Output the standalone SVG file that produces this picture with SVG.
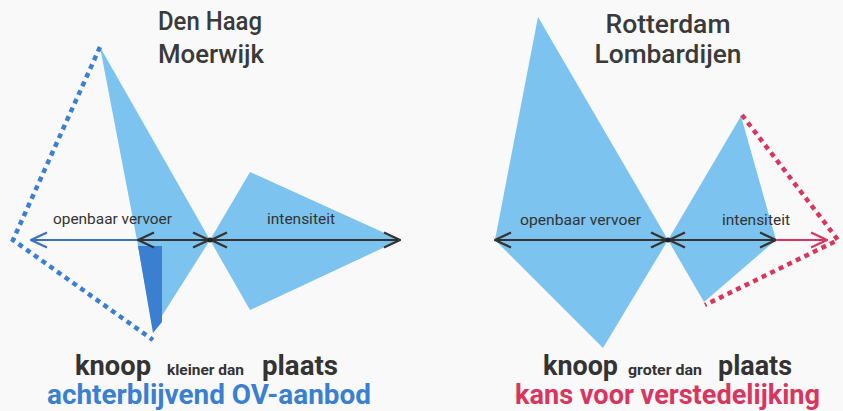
<svg xmlns="http://www.w3.org/2000/svg" width="843" height="411" viewBox="0 0 843 411">
<style>
.kite{fill:#7cc3ef}
.axis{stroke:#333;stroke-width:2;fill:none}
.title{font-family:Roboto,"Liberation Sans",sans-serif;font-size:25px;font-weight:500;fill:#3a3a3a;text-anchor:middle}
.lbl{font-family:Roboto,"Liberation Sans",sans-serif;font-size:14px;fill:#333}
.big{font-family:Roboto,"Liberation Sans",sans-serif;font-size:27px;font-weight:700;fill:#333}
.small{font-family:Roboto,"Liberation Sans",sans-serif;font-size:14px;font-weight:700;fill:#333}
.dotB{stroke:#3b7fd0;stroke-width:4.5;fill:none;stroke-dasharray:5 4.5}
.dotR{stroke:#d8365e;stroke-width:4.5;fill:none;stroke-dasharray:5 4.5}
</style>
<defs>
<marker id="ah" viewBox="0 0 18 18" refX="17" refY="9" markerWidth="18" markerHeight="18" markerUnits="userSpaceOnUse" orient="auto-start-reverse">
<path d="M1,1.5 L17,9 L1,16.5" fill="none" stroke="#333" stroke-width="2.2"/>
</marker>
<marker id="ahB" viewBox="0 0 18 18" refX="17" refY="9" markerWidth="18" markerHeight="18" markerUnits="userSpaceOnUse" orient="auto-start-reverse">
<path d="M1,1.5 L17,9 L1,16.5" fill="none" stroke="#3b6fc0" stroke-width="2.2"/>
</marker>
<marker id="ahR" viewBox="0 0 18 18" refX="17" refY="9" markerWidth="18" markerHeight="18" markerUnits="userSpaceOnUse" orient="auto">
<path d="M1,1.5 L17,9 L1,16.5" fill="none" stroke="#d8365e" stroke-width="2.2"/>
</marker>
</defs>
<rect width="843" height="411" fill="#f9f9f9"/>

<g id="den-haag">
<g id="dh-title">
<text class="title" x="210" y="30" textLength="104" lengthAdjust="spacingAndGlyphs">Den Haag</text>
<text class="title" x="211" y="63" textLength="106" lengthAdjust="spacingAndGlyphs">Moerwijk</text>
</g>
<g id="dh-knoop">
<polygon class="kite" points="100,47 210,240 153,330 137,240"/>
<polygon fill="#3b7fd0" points="138,246 162,246 162,322 153,333"/>
</g>
<g id="dh-plaats">
<polygon class="kite" points="250,172 400,240 250,310 210,240"/>
</g>
<g id="dh-outline">
<polyline class="dotB" points="100,47 13,240 153,340"/>
</g>
<g id="dh-labels">
<text class="lbl" x="53" y="224" textLength="119" lengthAdjust="spacingAndGlyphs">openbaar vervoer</text>
<text class="lbl" x="267" y="224" textLength="68" lengthAdjust="spacingAndGlyphs">intensiteit</text>
</g>
<g id="dh-caption">
<text class="big" x="75" y="375" textLength="76" lengthAdjust="spacingAndGlyphs">knoop</text>
<text class="small" x="167" y="375" textLength="77" lengthAdjust="spacingAndGlyphs">kleiner dan</text>
<text class="big" x="262" y="375" textLength="76" lengthAdjust="spacingAndGlyphs">plaats</text>
<text class="big" x="47" y="404" textLength="324" lengthAdjust="spacingAndGlyphs" style="fill:#3b7fd0">achterblijvend OV-aanbod</text>
</g>
</g>

<g id="rotterdam">
<g id="rl-title">
<text class="title" x="668" y="33" textLength="125" lengthAdjust="spacingAndGlyphs">Rotterdam</text>
<text class="title" x="668" y="63" textLength="147" lengthAdjust="spacingAndGlyphs">Lombardijen</text>
</g>
<g id="rl-knoop">
<polygon class="kite" points="538,17 668,240 603,348 495,240"/>
</g>
<g id="rl-plaats">
<polygon class="kite" points="741,116 776,240 704,302 668,240"/>
</g>
<g id="rl-outline">
<polyline class="dotR" points="742,115 838,240 705,305"/>
</g>
<g id="rl-labels">
<text class="lbl" x="520" y="225" textLength="121" lengthAdjust="spacingAndGlyphs">openbaar vervoer</text>
<text class="lbl" x="722" y="225" textLength="68" lengthAdjust="spacingAndGlyphs">intensiteit</text>
</g>
<g id="rl-caption">
<text class="big" x="543" y="375" textLength="75" lengthAdjust="spacingAndGlyphs">knoop</text>
<text class="small" x="628" y="375" textLength="74" lengthAdjust="spacingAndGlyphs">groter dan</text>
<text class="big" x="718" y="375" textLength="74" lengthAdjust="spacingAndGlyphs">plaats</text>
<text class="big" x="515" y="404" textLength="305" lengthAdjust="spacingAndGlyphs" style="fill:#d8365e">kans voor verstedelijking</text>
</g>
</g>

<g id="connectors">
<line x1="31" y1="240" x2="138" y2="240" stroke="#3b6fc0" stroke-width="2" marker-start="url(#ahB)"/>
<line class="axis" x1="138" y1="240" x2="209" y2="240" marker-start="url(#ah)" marker-end="url(#ah)"/>
<line class="axis" x1="211" y1="240" x2="400" y2="240" marker-start="url(#ah)" marker-end="url(#ah)"/>
<circle cx="210" cy="240" r="2.5" fill="#222"/>
<line class="axis" x1="495" y1="240" x2="667" y2="240" marker-start="url(#ah)" marker-end="url(#ah)"/>
<line class="axis" x1="669" y1="240" x2="776" y2="240" marker-start="url(#ah)" marker-end="url(#ah)"/>
<line x1="776" y1="240" x2="827" y2="240" stroke="#d8365e" stroke-width="2" marker-end="url(#ahR)"/>
<circle cx="668" cy="240" r="2.5" fill="#222"/>
</g>
</svg>
